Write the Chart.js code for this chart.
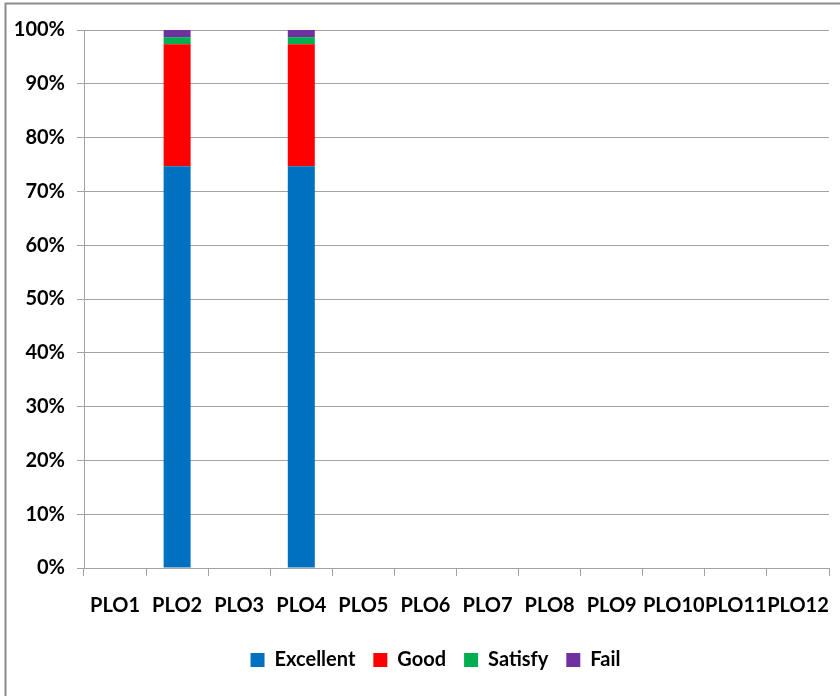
<!DOCTYPE html>
<html>
<head>
<meta charset="utf-8">
<script src="https://cdn.jsdelivr.net/npm/chart.js@4/dist/chart.umd.min.js"></script>
<style>
  html, body { margin: 0; padding: 0; background: #fff; }
  #wrap { position: relative; width: 840px; height: 696px; }
</style>
</head>
<body>
<div id="wrap"><canvas id="c" width="840" height="696"></canvas></div>
<script>
// Program learning outcomes and the share of students at each level (%)
const categories = ['PLO1','PLO2','PLO3','PLO4','PLO5','PLO6','PLO7','PLO8','PLO9','PLO10','PLO11','PLO12'];
const excellent = [0, 74.67, 0, 74.67, 0, 0, 0, 0, 0, 0, 0, 0];
const good      = [0, 22.67, 0, 22.67, 0, 0, 0, 0, 0, 0, 0, 0];
const satisfy   = [0, 1.33,  0, 1.33,  0, 0, 0, 0, 0, 0, 0, 0];
const fail      = [0, 1.33,  0, 1.33,  0, 0, 0, 0, 0, 0, 0, 0];
const yTicks = [0, 10, 20, 30, 40, 50, 60, 70, 80, 90, 100];

const FONT = 'Lato, "Liberation Sans", sans-serif';
const GRID = '#a3a3a3';

// White page with a thin grey frame along the top and left edges
const framePlugin = {
  id: 'frame',
  beforeDraw(chart) {
    const ctx = chart.ctx;
    ctx.save();
    ctx.fillStyle = '#ffffff';
    ctx.fillRect(0, 0, chart.width, chart.height);
    ctx.strokeStyle = '#8c8c8c';
    ctx.lineWidth = 2;
    ctx.beginPath();
    ctx.moveTo(5.5, chart.height);
    ctx.lineTo(5.5, 3.5);
    ctx.lineTo(chart.width, 3.5);
    ctx.stroke();
    ctx.restore();
  }
};

// Centre the legend under the plot area rather than the whole canvas
const legendShift = {
  id: 'legendShift',
  afterLayout(chart) {
    const lg = chart.legend;
    if (!lg) return;
    lg.left += 16;
    lg.right += 16;
  }
};

const mk = (label, data, color) => ({
  label, data, backgroundColor: color, borderWidth: 0,
  categoryPercentage: 1.0, barPercentage: 0.435
});

new Chart(document.getElementById('c'), {
  type: 'bar',
  data: {
    labels: categories,
    datasets: [
      mk('Excellent', excellent, '#0070C0'),
      mk('Good', good, '#FF0000'),
      mk('Satisfy', satisfy, '#00B050'),
      mk('Fail', fail, '#7030A0')
    ]
  },
  plugins: [framePlugin, legendShift],
  options: {
    responsive: false,
    animation: false,
    events: [],
    layout: { padding: { top: 30, left: 10, right: 11, bottom: 16 } },
    plugins: {
      tooltip: { enabled: false },
      legend: {
        position: 'bottom',
        labels: {
          boxWidth: 14, boxHeight: 14, padding: 18,
          color: '#000',
          font: { family: FONT, size: 20, weight: 'bold' }
        }
      }
    },
    scales: {
      x: {
        stacked: true,
        offset: true,
        grid: { offset: true, drawOnChartArea: false, drawTicks: true, tickLength: 8, color: GRID },
        border: { color: GRID, width: 1 },
        ticks: { color: '#000', padding: 18, maxRotation: 0, autoSkip: false,
                 font: { family: FONT, size: 20, weight: 'bold' } },
        afterFit(scale) {
          scale.height = 64;
          scale.paddingLeft = 0;
          scale.paddingRight = 0;
        }
      },
      y: {
        stacked: true,
        min: 0, max: 100,
        afterBuildTicks(scale) { scale.ticks = yTicks.map(v => ({ value: v })); },
        grid: { color: GRID, drawTicks: true, tickLength: 7 },
        border: { color: GRID, width: 1 },
        ticks: { color: '#000', padding: 12, callback: v => v + '%',
                 font: { family: FONT, size: 20, weight: 'bold' } },
        afterFit(scale) {
          scale.width = 74;
          scale.paddingTop = 0;
          scale.paddingBottom = 0;
        }
      }
    }
  }
});
</script>
</body>
</html>
